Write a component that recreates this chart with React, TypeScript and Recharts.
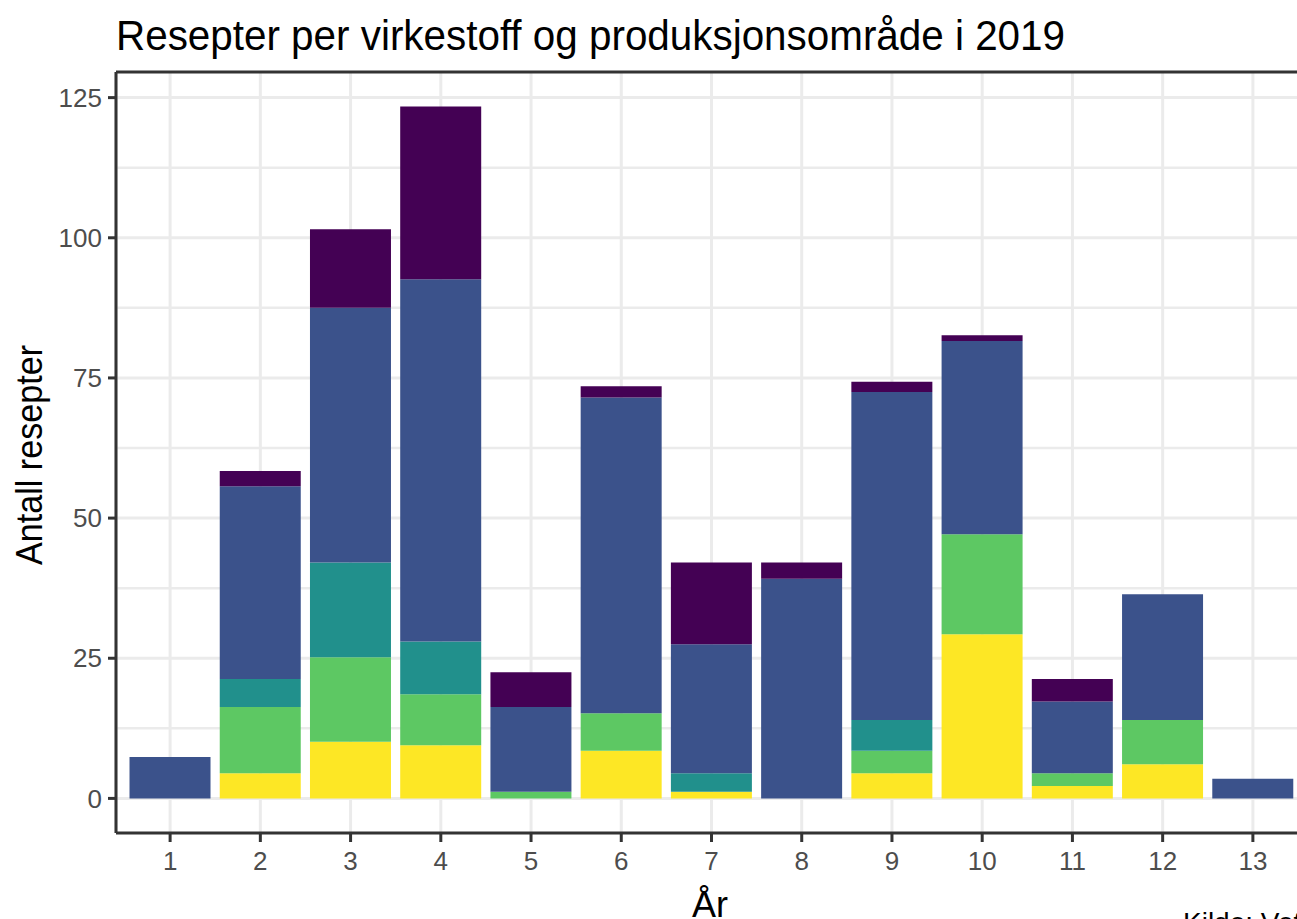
import { BarChart, Bar, XAxis, YAxis, CartesianGrid, ReferenceLine } from "recharts";

// one value per category (År 1..13), stacked bottom -> top
const CATEGORIES = ["1", "2", "3", "4", "5", "6", "7", "8", "9", "10", "11", "12", "13"];
const YELLOW = [0, 4.5, 10.1, 9.5, 0, 8.5, 1.2, 0, 4.5, 29.3, 2.2, 6.1, 0];
const GREEN = [0, 11.8, 15.1, 9.1, 1.2, 6.7, 0, 0, 4, 17.8, 2.3, 7.9, 0];
const TEAL = [0, 5, 16.9, 9.4, 0, 0, 3.3, 0, 5.5, 0, 0, 0, 0];
const BLUE = [7.4, 34.4, 45.4, 64.6, 15.1, 56.3, 23, 39.2, 58.5, 34.5, 12.8, 22.4, 3.5];
const PURPLE = [0, 2.7, 14, 30.8, 6.2, 2, 14.6, 2.9, 1.8, 1, 4, 0, 0];

const Y_TICKS = [0, 25, 50, 75, 100, 125];
const Y_MINOR = [12.5, 37.5, 62.5, 87.5, 112.5];
const Y_DOMAIN: [number, number] = [-6.17, 129.57];

const SERIES = [
  { key: "yellow", values: YELLOW, color: "#FDE725" },
  { key: "green", values: GREEN, color: "#5DC863" },
  { key: "teal", values: TEAL, color: "#21908C" },
  { key: "blue", values: BLUE, color: "#3B528B" },
  { key: "purple", values: PURPLE, color: "#440154" },
];

const data = CATEGORIES.map((name, i) => {
  const row: Record<string, string | number> = { name };
  SERIES.forEach((s) => {
    row[s.key] = s.values[i];
  });
  return row;
});

const FONT = "'Liberation Sans', Arial, sans-serif";
const AXIS = "#333333";

export default function App() {
  return (
    <div
      style={{
        position: "absolute",
        top: 0,
        left: 0,
        width: 1297,
        height: 919,
        overflow: "hidden",
        background: "#fff",
      }}
    >
      <BarChart
        width={1320}
        height={919}
        data={data}
        margin={{ top: 72, right: 13, bottom: 0, left: 0 }}
        barCategoryGap="5%"
      >
        <CartesianGrid stroke="#EBEBEB" strokeWidth={3} horizontalValues={Y_TICKS} />
        <CartesianGrid stroke="#EBEBEB" strokeWidth={2.5} vertical={false} horizontalValues={Y_MINOR} />
        <XAxis
          dataKey="name"
          interval={0}
          height={86}
          padding={{ left: 9, right: 9 }}
          tickSize={9}
          tickMargin={10}
          axisLine={{ stroke: AXIS, strokeWidth: 3 }}
          tickLine={{ stroke: AXIS, strokeWidth: 3 }}
          tick={{ fill: "#4D4D4D", fontSize: 26, fontFamily: FONT }}
        />
        <YAxis
          type="number"
          width={116}
          domain={Y_DOMAIN}
          allowDataOverflow
          ticks={Y_TICKS}
          interval={0}
          tickSize={8}
          tickMargin={6}
          axisLine={{ stroke: AXIS, strokeWidth: 3 }}
          tickLine={{ stroke: AXIS, strokeWidth: 3 }}
          tick={{ fill: "#4D4D4D", fontSize: 26, fontFamily: FONT }}
        />
        {SERIES.map((s) => (
          <Bar key={s.key} dataKey={s.key} stackId="a" fill={s.color} isAnimationActive={false} />
        ))}
        {/* top edge of the panel border */}
        <ReferenceLine y={Y_DOMAIN[1]} stroke={AXIS} strokeWidth={3} ifOverflow="visible" />
      </BarChart>

      <svg
        width={1297}
        height={919}
        style={{ position: "absolute", top: 0, left: 0, pointerEvents: "none" }}
      >
        <text
          x={116}
          y={50}
          fontSize={42}
          fontFamily={FONT}
          fill="#000"
          textLength={949}
          lengthAdjust="spacingAndGlyphs"
        >
          Resepter per virkestoff og produksjonsområde i 2019
        </text>
        <text
          transform="translate(42, 455) rotate(-90)"
          textAnchor="middle"
          fontSize={36}
          fontFamily={FONT}
          fill="#000"
          textLength={220}
          lengthAdjust="spacingAndGlyphs"
        >
          Antall resepter
        </text>
        <text x={710} y={917} textAnchor="middle" fontSize={36} fontFamily={FONT} fill="#000">
          År
        </text>
        <text x={1183} y={932} fontSize={28} fontFamily={FONT} fill="#000">
          Kilde: VetReg
        </text>
      </svg>
    </div>
  );
}
